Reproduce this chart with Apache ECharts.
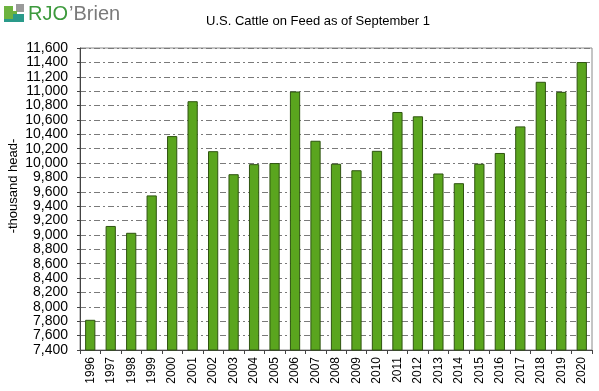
<!DOCTYPE html>
<html>
<head>
<meta charset="utf-8">
<script src="https://cdn.jsdelivr.net/npm/echarts@6/dist/echarts.min.js"></script>
<style>
html,body{margin:0;padding:0;background:#fff;}
#chart{width:599px;height:391px;}
</style>
</head>
<body>
<div id="chart"></div>
<script>
var years = ['1996','1997','1998','1999','2000','2001','2002','2003','2004','2005','2006','2007','2008','2009','2010','2011','2012','2013','2014','2015','2016','2017','2018','2019','2020'];
var cattleOnFeed = [7820,9125,9030,9550,10375,10860,10165,9845,9985,10000,10995,10310,9990,9900,10170,10710,10650,9855,9720,9990,10140,10510,11130,10990,11405];
var titleText = 'U.S. Cattle on Feed as of September 1';
var yAxisName = '-thousand head-';

var chart = echarts.init(document.getElementById('chart'));
var font = '"Liberation Sans", Arial, sans-serif';
chart.setOption({
  animation: false,
  backgroundColor: '#ffffff',
  title: {
    text: titleText,
    left: 313, top: 10, textAlign: 'center',
    textStyle: {fontFamily: font, fontSize: 13, fontWeight: 'normal', color: '#000'}
  },
  grid: {left: 80, top: 48, right: 7, bottom: 41, show: true, borderColor: '#8a8a8a', borderWidth: 1, backgroundColor: 'transparent'},
  xAxis: {
    type: 'category',
    data: years,
    axisLine: {lineStyle: {color: '#444', width: 1}},
    axisTick: {show: true, alignWithLabel: false, length: 4, lineStyle: {color: '#444'}},
    axisLabel: {rotate: 90, fontFamily: font, fontSize: 12, color: '#000', margin: 7}
  },
  yAxis: {
    type: 'value',
    min: 7400, max: 11600, interval: 200,
    axisLine: {show: true, lineStyle: {color: '#444', width: 1}},
    axisTick: {show: true, length: 3, lineStyle: {color: '#444'}},
    axisLabel: {
      fontFamily: font, fontSize: 14, color: '#000', margin: 12,
      formatter: function (v) { return v.toLocaleString('en-US'); }
    },
    splitLine: {show: true, lineStyle: {color: '#7a7a7a', width: 1, type: [6, 3, 2, 3]}}
  },
  series: [{
    type: 'bar',
    data: cattleOnFeed,
    barWidth: '50%',
    itemStyle: {color: '#5aa51e', borderColor: '#2f5410', borderWidth: 1}
  }],
  graphic: [
    {type: 'text', x: 13, y: 186, rotation: Math.PI / 2,
     style: {text: yAxisName, font: '13px ' + font, fill: '#000', align: 'center', verticalAlign: 'middle'}},
    {type: 'rect', x: 0, y: 0, shape: {x: 16, y: 4, width: 8, height: 8}, style: {fill: '#9a9a9a'}},
    {type: 'rect', x: 0, y: 0, shape: {x: 4, y: 6, width: 9, height: 14}, style: {fill: '#6db33f'}},
    {type: 'rect', x: 0, y: 0, shape: {x: 13, y: 11, width: 4, height: 4}, style: {fill: '#6db33f'}},
    {type: 'rect', x: 0, y: 0, shape: {x: 13, y: 14, width: 11, height: 8}, style: {fill: '#2a9a8a'}},
    {type: 'rect', x: 0, y: 0, shape: {x: 4, y: 19, width: 10, height: 3}, style: {fill: '#2a9a8a'}},
    {type: 'text', x: 28, y: 24, style: {text: 'RJO', font: '20px ' + font, fill: '#3d9a3d', verticalAlign: 'bottom'}},
    {type: 'text', x: 69, y: 24, style: {text: '\u2019Brien', font: '20px ' + font, fill: '#7a7a7a', verticalAlign: 'bottom'}}
  ]
});
</script>
</body>
</html>
